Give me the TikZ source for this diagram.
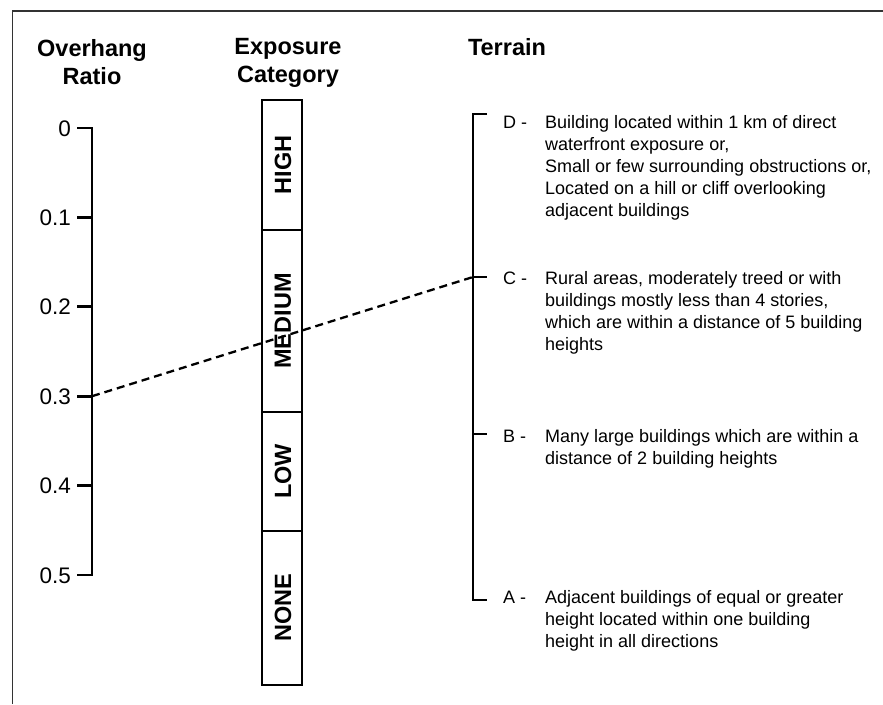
\documentclass[tikz,border=0pt]{standalone}
\usepackage{fontspec}
\setmainfont{Liberation Sans}
\begin{document}
\begin{tikzpicture}[x=1pt,y=-1pt,
  axisline/.style={line width=2.7pt, line cap=butt, line join=miter},
  barbox/.style={draw, line width=2.4pt, fill=white},
  divline/.style={line width=2.4pt},
  titletext/.style={font=\fontsize{23.5}{28}\selectfont\bfseries, align=center, inner sep=0pt, anchor=north},
  ticklabel/.style={font=\fontsize{22.5}{26}\selectfont, inner sep=0pt, anchor=base east},
  barlabel/.style={font=\fontsize{23.5}{28}\selectfont\bfseries, rotate=90, inner sep=0pt},
  letterlabel/.style={font=\fontsize{18}{22}\selectfont, inner sep=0pt, anchor=base west},
  desctext/.style={font=\fontsize{18}{22}\selectfont, align=left, inner sep=0pt, anchor=north west},
  dashlink/.style={line width=2.3pt, dash pattern=on 8pt off 5pt}]
\useasboundingbox (0,0) rectangle (883,704);
% frame
\draw[line width=1.5pt, black!80] (12.5,704) -- (12.5,11) -- (883,11);

% titles
\node[titletext] (tOver) at (92,39.5) {Overhang\\Ratio};
\node[titletext] (tExpo) at (288,38) {Exposure\\Category};
\node[titletext] (tTerr) at (507,38) {Terrain};

% overhang axis
\coordinate (o0) at (92,128);
\coordinate (o1) at (92,217.4);
\coordinate (o2) at (92,306.8);
\coordinate (o3) at (92,396.2);
\coordinate (o4) at (92,485.6);
\coordinate (o5) at (92,575);
\draw[axisline] ([xshift=-15pt]o0) -- (o0) -- (o5) -- ([xshift=-15pt]o5);
\foreach \k in {1,2,3,4} \draw[axisline] ([xshift=-15pt]o\k) -- (o\k);
\node[ticklabel] (l0) at (71,136) {0};
\node[ticklabel] (l1) at (71,225.4) {0.1};
\node[ticklabel] (l2) at (71,314.8) {0.2};
\node[ticklabel] (l3) at (71,404.2) {0.3};
\node[ticklabel] (l4) at (71,493.6) {0.4};
\node[ticklabel] (l5) at (71,583) {0.5};

% exposure bar
\draw[barbox] (262,100) rectangle (302,685);
\draw[divline] (262,230) -- (302,230);
\draw[divline] (262,412) -- (302,412);
\draw[divline] (262,531) -- (302,531);
\node[barlabel] (eHigh) at (283,165) {HIGH};
\node[barlabel] (eMed) at (283,321) {MEDIUM};
\node[barlabel] (eLow) at (283,471.5) {LOW};
\node[barlabel] (eNone) at (283,608) {NONE};

% terrain axis
\coordinate (tD) at (473,114);
\coordinate (tC) at (473,277);
\coordinate (tB) at (473,434);
\coordinate (tA) at (473,600);
\draw[axisline] ([xshift=14pt]tD) -- (tD) -- (tA) -- ([xshift=14pt]tA);
\draw[axisline] (tC) -- ([xshift=14pt]tC);
\draw[axisline] (tB) -- ([xshift=14pt]tB);

\node[letterlabel] (dD) at (503,128.5) {D -};
\node[letterlabel] (dC) at (503,284.5) {C -};
\node[letterlabel] (dB) at (503,442.5) {B -};
\node[letterlabel] (dA) at (503,603.5) {A -};
\node[desctext] (xD) at (545,115.5) {Building located within 1 km of direct\\waterfront exposure or,\\Small or few surrounding obstructions or,\\Located on a hill or cliff overlooking\\adjacent buildings};
\node[desctext] (xC) at (545,271.5) {Rural areas, moderately treed or with\\buildings mostly less than 4 stories,\\which are within a distance of 5 building\\heights};
\node[desctext] (xB) at (545,429.5) {Many large buildings which are within a\\distance of 2 building heights};
\node[desctext] (xA) at (545,590.5) {Adjacent buildings of equal or greater\\height located within one building\\height in all directions};

% dashed link
\draw[dashlink] (o3) -- (tC);
\end{tikzpicture}
\end{document}
